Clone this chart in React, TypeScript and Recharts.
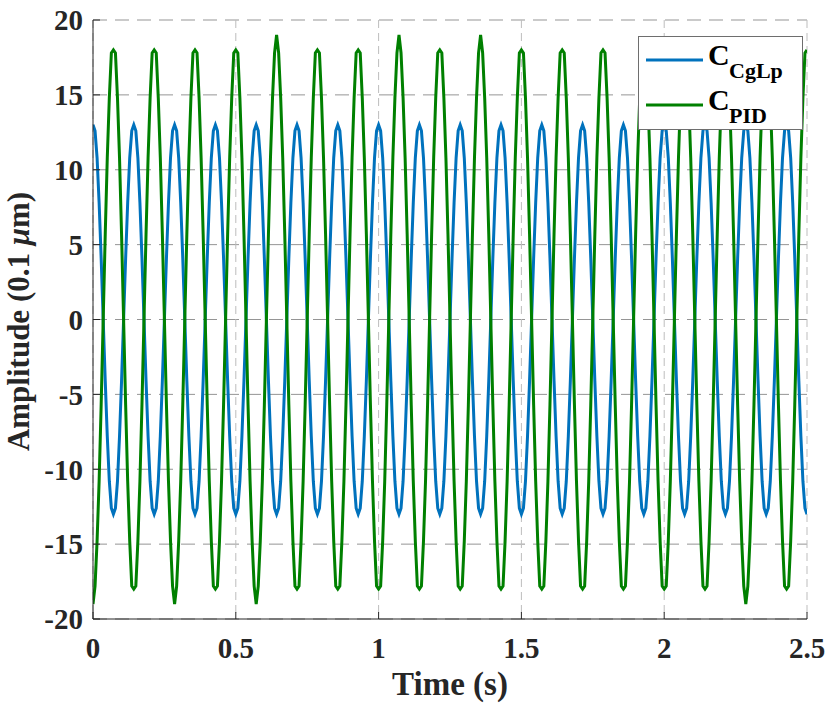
import React from 'react';
import { LineChart, Line, XAxis, YAxis, CartesianGrid, Legend, Label } from 'recharts';

// Samples of both controller responses, 140 samples per second (t = index / 140 s)
const SAMPLE_RATE_HZ = 140;

const X_TICKS = [0, 0.5, 1, 1.5, 2, 2.5];
const X_TICK_LABELS = ['0', '0.5', '1', '1.5', '2', '2.5'];
const Y_TICKS = [-20, -15, -10, -5, 0, 5, 10, 15, 20];
const Y_TICK_LABELS = ['-20', '-15', '-10', '-5', '0', '5', '10', '15', '20'];

const SERIES_MAIN = 'C';
const SERIES_SUBS = ['CgLp', 'PID'];

// C_CgLp amplitude (0.1 µm)
const cgLpValues = [
  13, 12.6, 10.8, 7.8, 4.1, 0, -4.1, -7.8, -10.8, -12.6, -13, -12.6, -10.8, -7.8, -4.1, 0, 4.1, 7.8, 10.8, 12.6,
  13, 12.6, 10.8, 7.8, 4.1, 0, -4.1, -7.8, -10.8, -12.6, -13, -12.6, -10.8, -7.8, -4.1, 0, 4.1, 7.8, 10.8, 12.6,
  13, 12.6, 10.8, 7.8, 4.1, 0, -4.1, -7.8, -10.8, -12.6, -13, -12.6, -10.8, -7.8, -4.1, 0, 4.1, 7.8, 10.8, 12.6,
  13, 12.6, 10.8, 7.8, 4.1, 0, -4.1, -7.8, -10.8, -12.6, -13, -12.6, -10.8, -7.8, -4.1, 0, 4.1, 7.8, 10.8, 12.6,
  13, 12.6, 10.8, 7.8, 4.1, 0, -4.1, -7.8, -10.8, -12.6, -13, -12.6, -10.8, -7.8, -4.1, 0, 4.1, 7.8, 10.8, 12.6,
  13, 12.6, 10.8, 7.8, 4.1, 0, -4.1, -7.8, -10.8, -12.6, -13, -12.6, -10.8, -7.8, -4.1, 0, 4.1, 7.8, 10.8, 12.6,
  13, 12.6, 10.8, 7.8, 4.1, 0, -4.1, -7.8, -10.8, -12.6, -13, -12.6, -10.8, -7.8, -4.1, 0, 4.1, 7.8, 10.8, 12.6,
  13, 12.6, 10.8, 7.8, 4.1, 0, -4.1, -7.8, -10.8, -12.6, -13, -12.6, -10.8, -7.8, -4.1, 0, 4.1, 7.8, 10.8, 12.6,
  13, 12.6, 10.8, 7.8, 4.1, 0, -4.1, -7.8, -10.8, -12.6, -13, -12.6, -10.8, -7.8, -4.1, 0, 4.1, 7.8, 10.8, 12.6,
  13, 12.6, 10.8, 7.8, 4.1, 0, -4.1, -7.8, -10.8, -12.6, -13, -12.6, -10.8, -7.8, -4.1, 0, 4.1, 7.8, 10.8, 12.6,
  13, 12.6, 10.8, 7.8, 4.1, 0, -4.1, -7.8, -10.8, -12.6, -13, -12.6, -10.8, -7.8, -4.1, 0, 4.1, 7.8, 10.8, 12.6,
  13, 12.6, 10.8, 7.8, 4.1, 0, -4.1, -7.8, -10.8, -12.6, -13, -12.6, -10.8, -7.8, -4.1, 0, 4.1, 7.8, 10.8, 12.6,
  13, 12.6, 10.8, 7.8, 4.1, 0, -4.1, -7.8, -10.8, -12.6, -13, -12.6, -10.8, -7.8, -4.1, 0, 4.1, 7.8, 10.8, 12.6,
  13, 12.6, 10.8, 7.8, 4.1, 0, -4.1, -7.8, -10.8, -12.6, -13, -12.6, -10.8, -7.8, -4.1, 0, 4.1, 7.8, 10.8, 12.6,
  13, 12.6, 10.8, 7.8, 4.1, 0, -4.1, -7.8, -10.8, -12.6, -13, -12.6, -10.8, -7.8, -4.1, 0, 4.1, 7.8, 10.8, 12.6,
  13, 12.6, 10.8, 7.8, 4.1, 0, -4.1, -7.8, -10.8, -12.6, -13, -12.6, -10.8, -7.8, -4.1, 0, 4.1, 7.8, 10.8, 12.6,
  13, 12.6, 10.8, 7.8, 4.1, 0, -4.1, -7.8, -10.8, -12.6, -13, -12.6, -10.8, -7.8, -4.1, 0, 4.1, 7.8, 10.8, 12.6,
  13, 12.6, 10.8, 7.8, 4.1, 0, -4.1, -7.8, -10.8, -12.6, -13,
];

// C_PID amplitude (0.1 µm)
const pidValues = [
  -19, -17.8, -14.8, -10.8, -5.7, 0, 5.7, 10.8, 14.8, 17.8, 18, 17.8, 14.8, 10.8, 5.7, 0, -5.7, -10.8, -14.8, -17.8,
  -18, -17.8, -14.8, -10.8, -5.7, 0, 5.7, 10.8, 14.8, 17.8, 18, 17.8, 14.8, 10.8, 5.7, 0, -5.7, -10.8, -14.8, -17.8,
  -19, -17.8, -14.8, -10.8, -5.7, 0, 5.7, 10.8, 14.8, 17.8, 18, 17.8, 14.8, 10.8, 5.7, 0, -5.7, -10.8, -14.8, -17.8,
  -18, -17.8, -14.8, -10.8, -5.7, 0, 5.7, 10.8, 14.8, 17.8, 18, 17.8, 14.8, 10.8, 5.7, 0, -5.7, -10.8, -14.8, -17.8,
  -19, -17.8, -14.8, -10.8, -5.7, 0, 5.7, 10.8, 14.8, 17.8, 19, 17.8, 14.8, 10.8, 5.7, 0, -5.7, -10.8, -14.8, -17.8,
  -18, -17.8, -14.8, -10.8, -5.7, 0, 5.7, 10.8, 14.8, 17.8, 18, 17.8, 14.8, 10.8, 5.7, 0, -5.7, -10.8, -14.8, -17.8,
  -18, -17.8, -14.8, -10.8, -5.7, 0, 5.7, 10.8, 14.8, 17.8, 18, 17.8, 14.8, 10.8, 5.7, 0, -5.7, -10.8, -14.8, -17.8,
  -18, -17.8, -14.8, -10.8, -5.7, 0, 5.7, 10.8, 14.8, 17.8, 19, 17.8, 14.8, 10.8, 5.7, 0, -5.7, -10.8, -14.8, -17.8,
  -18, -17.8, -14.8, -10.8, -5.7, 0, 5.7, 10.8, 14.8, 17.8, 18, 17.8, 14.8, 10.8, 5.7, 0, -5.7, -10.8, -14.8, -17.8,
  -18, -17.8, -14.8, -10.8, -5.7, 0, 5.7, 10.8, 14.8, 17.8, 19, 17.8, 14.8, 10.8, 5.7, 0, -5.7, -10.8, -14.8, -17.8,
  -18, -17.8, -14.8, -10.8, -5.7, 0, 5.7, 10.8, 14.8, 17.8, 18, 17.8, 14.8, 10.8, 5.7, 0, -5.7, -10.8, -14.8, -17.8,
  -18, -17.8, -14.8, -10.8, -5.7, 0, 5.7, 10.8, 14.8, 17.8, 18, 17.8, 14.8, 10.8, 5.7, 0, -5.7, -10.8, -14.8, -17.8,
  -18, -17.8, -14.8, -10.8, -5.7, 0, 5.7, 10.8, 14.8, 17.8, 18, 17.8, 14.8, 10.8, 5.7, 0, -5.7, -10.8, -14.8, -17.8,
  -18, -17.8, -14.8, -10.8, -5.7, 0, 5.7, 10.8, 14.8, 17.8, 18, 17.8, 14.8, 10.8, 5.7, 0, -5.7, -10.8, -14.8, -17.8,
  -18, -17.8, -14.8, -10.8, -5.7, 0, 5.7, 10.8, 14.8, 17.8, 18, 17.8, 14.8, 10.8, 5.7, 0, -5.7, -10.8, -14.8, -17.8,
  -18, -17.8, -14.8, -10.8, -5.7, 0, 5.7, 10.8, 14.8, 17.8, 18, 17.8, 14.8, 10.8, 5.7, 0, -5.7, -10.8, -14.8, -17.8,
  -19, -17.8, -14.8, -10.8, -5.7, 0, 5.7, 10.8, 14.8, 17.8, 18, 17.8, 14.8, 10.8, 5.7, 0, -5.7, -10.8, -14.8, -17.8,
  -18, -17.8, -14.8, -10.8, -5.7, 0, 5.7, 10.8, 14.8, 17.8, 18,
];

const chartData = cgLpValues.map((v, i) => ({
  t: i / SAMPLE_RATE_HZ,
  cgLp: v,
  pid: pidValues[i],
}));

const FONT = '"Liberation Serif", "Times New Roman", Times, serif';
const INK = '#262626';
const BLUE = '#0072BD';
const GREEN = '#008000';
const TICK_LEN = 7;
const X_TICK_MARGIN = 18;
const Y_TICK_MARGIN = 10;
const TICK_FONT = 29;

const BottomTick = (props: any) => {
  const { x, y, payload } = props;
  const idx = X_TICKS.indexOf(payload.value);
  const axisY = y - X_TICK_MARGIN;
  return (
    <g>
      <line x1={x} x2={x} y1={axisY} y2={axisY - TICK_LEN} stroke={INK} strokeWidth={1} />
      <text x={x} y={y} dy="0.71em" textAnchor="middle" fontFamily={FONT} fontWeight="bold" fontSize={TICK_FONT} fill={INK}>
        {X_TICK_LABELS[idx]}
      </text>
    </g>
  );
};

const LeftTick = (props: any) => {
  const { x, y, payload } = props;
  const idx = Y_TICKS.indexOf(payload.value);
  const axisX = x + Y_TICK_MARGIN;
  return (
    <g>
      <line x1={axisX} x2={axisX + TICK_LEN} y1={y} y2={y} stroke={INK} strokeWidth={1} />
      <text x={x} y={y} dy="0.355em" textAnchor="end" fontFamily={FONT} fontWeight="bold" fontSize={TICK_FONT} fill={INK}>
        {Y_TICK_LABELS[idx]}
      </text>
    </g>
  );
};

const TopTick = (props: any) => {
  const { x, y } = props;
  return <line x1={x} x2={x} y1={y} y2={y + TICK_LEN} stroke={INK} strokeWidth={1} />;
};

const RightTick = (props: any) => {
  const { x, y } = props;
  return <line x1={x} x2={x - TICK_LEN} y1={y} y2={y} stroke={INK} strokeWidth={1} />;
};

const XLabel = (props: any) => {
  const vb = props.viewBox || { x: 93, y: 619, width: 714, height: 88 };
  return (
    <text x={vb.x + vb.width / 2} y={vb.y + 76} textAnchor="middle" fontFamily={FONT} fontWeight="bold" fontSize={33} fill={INK}>
      Time (s)
    </text>
  );
};

const YLabel = (props: any) => {
  const vb = props.viewBox || { x: 0, y: 20, width: 93, height: 599 };
  const cx = vb.x + 29;
  const cy = vb.y + vb.height / 2 + 2;
  return (
    <text
      x={cx}
      y={cy}
      transform={`rotate(-90, ${cx}, ${cy})`}
      textAnchor="middle"
      fontFamily={FONT}
      fontWeight="bold"
      fontSize={31}
      fill={INK}
    >
      Amplitude (0.1 <tspan fontStyle="italic">μ</tspan>m)
    </text>
  );
};

const LegendBox = () => (
  <svg width={166} height={95} style={{ display: 'block' }}>
    <rect x={0.5} y={0.5} width={164} height={93} fill="#ffffff" stroke="#6e6e6e" strokeWidth={1} />
    <line x1={8} x2={65} y1={24} y2={24} stroke={BLUE} strokeWidth={3} />
    <text x={70} y={29} fontFamily={FONT} fontWeight="bold" fontSize={30} fill="#000">{SERIES_MAIN}</text>
    <text x={91} y={42} fontFamily={FONT} fontWeight="bold" fontSize={22} fill="#000">{SERIES_SUBS[0]}</text>
    <line x1={8} x2={65} y1={69} y2={69} stroke={GREEN} strokeWidth={3} />
    <text x={70} y={74} fontFamily={FONT} fontWeight="bold" fontSize={30} fill="#000">{SERIES_MAIN}</text>
    <text x={91} y={87} fontFamily={FONT} fontWeight="bold" fontSize={22} fill="#000">{SERIES_SUBS[1]}</text>
  </svg>
);

export default function App() {
  return (
    <div style={{ position: 'absolute', left: 0, top: 0, width: 830, height: 707, background: '#ffffff' }}>
      <LineChart width={830} height={707} data={chartData} margin={{ top: 20, right: 23, bottom: 0, left: 0 }}>
        <CartesianGrid horizontal={true} vertical={false} stroke="#959595" strokeDasharray="14 8" />
        <CartesianGrid horizontal={false} vertical={true} stroke="#bdbdbd" strokeDasharray="8 5" />
        <XAxis
          dataKey="t"
          type="number"
          domain={[0, 2.5]}
          ticks={X_TICKS}
          allowDataOverflow
          height={88}
          tickSize={0}
          tickMargin={X_TICK_MARGIN}
          tickLine={false}
          axisLine={{ stroke: INK }}
          tick={BottomTick}
          interval={0}
        >
          <Label content={XLabel} />
        </XAxis>
        <XAxis
          xAxisId="top"
          orientation="top"
          dataKey="t"
          type="number"
          domain={[0, 2.5]}
          ticks={X_TICKS}
          allowDataOverflow
          height={0}
          tickSize={0}
          tickMargin={0}
          tickLine={false}
          axisLine={{ stroke: INK }}
          tick={TopTick}
          interval={0}
        />
        <YAxis
          type="number"
          domain={[-20, 20]}
          ticks={Y_TICKS}
          allowDataOverflow
          width={93}
          tickSize={0}
          tickMargin={Y_TICK_MARGIN}
          tickLine={false}
          axisLine={{ stroke: INK }}
          tick={LeftTick}
          interval={0}
        >
          <Label content={YLabel} />
        </YAxis>
        <YAxis
          yAxisId="right"
          orientation="right"
          type="number"
          domain={[-20, 20]}
          ticks={Y_TICKS}
          allowDataOverflow
          width={0}
          tickSize={0}
          tickMargin={0}
          tickLine={false}
          axisLine={{ stroke: INK }}
          tick={RightTick}
          interval={0}
        />
        <Line type="linear" dataKey="cgLp" stroke={BLUE} strokeWidth={3} dot={false} isAnimationActive={false} />
        <Line type="linear" dataKey="pid" stroke={GREEN} strokeWidth={3} dot={false} isAnimationActive={false} />
        <Legend
          layout="horizontal"
          verticalAlign="middle"
          align="center"
          content={LegendBox}
          wrapperStyle={{ position: 'absolute', left: 638, top: 36, width: 166, height: 95 }}
        />
      </LineChart>
    </div>
  );
}
